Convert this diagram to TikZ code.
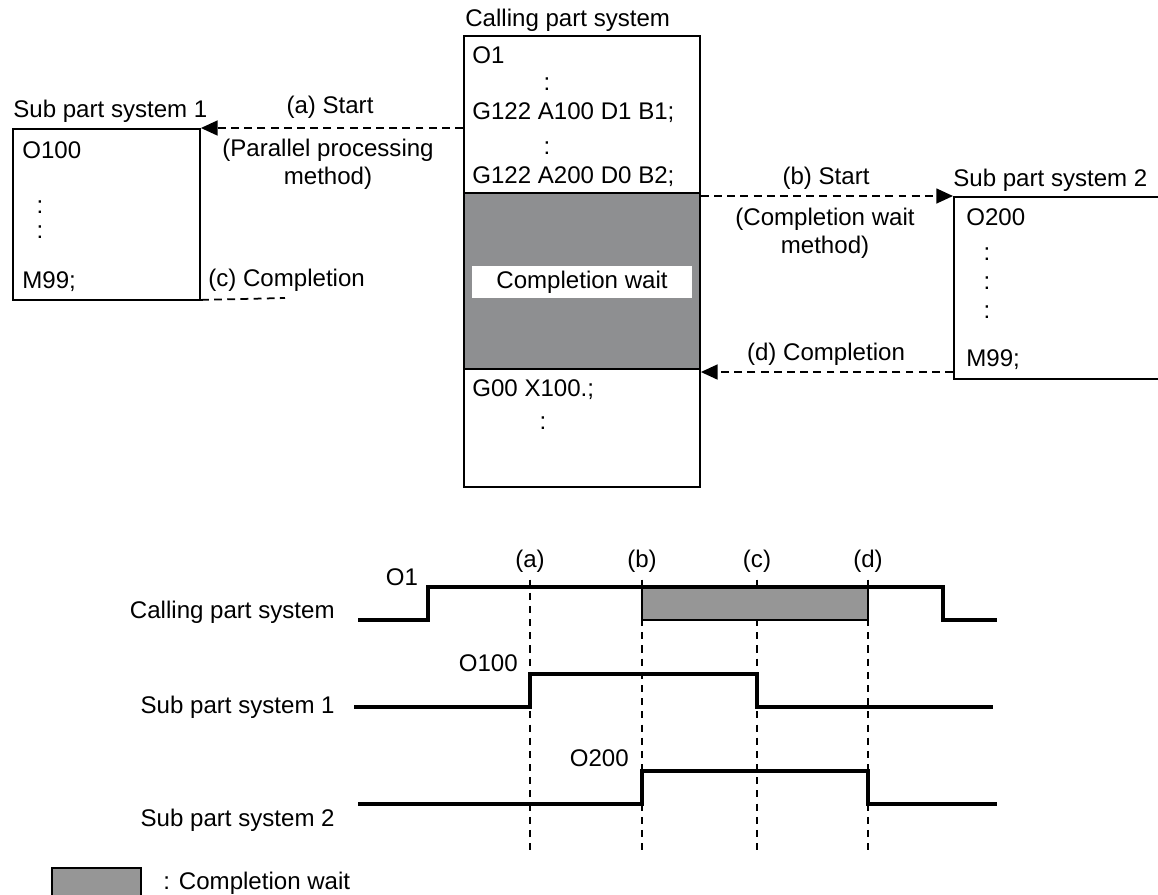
\documentclass[tikz,border=0pt]{standalone}
\usepackage{fontspec}
\setmainfont{Liberation Sans}
\usetikzlibrary{positioning, arrows.meta}
\definecolor{waitgray}{RGB}{142,143,145}
\definecolor{waitgraylt}{RGB}{150,150,150}

\begin{document}
\begin{tikzpicture}[x=0.02cm, y=-0.02cm,
  font=\fontsize{13.7}{16}\selectfont,
  txt/.style={inner sep=0pt},
  box/.style={draw, line width=1.1pt, inner sep=0pt, anchor=north west},
  call/.style={-{Triangle[length=9.5pt, width=8.5pt]}, line width=1pt, dash pattern=on 4.5pt off 3pt},
  dashline/.style={line width=1pt, dash pattern=on 4.5pt off 3pt},
  tline/.style={line width=1.2pt, dash pattern=on 4pt off 3.5pt},
  sig/.style={line width=1.8pt, line join=miter}]
\useasboundingbox (0,0) rectangle (1158,894);
\clip (0,0) rectangle (1158,894);

% Calling part system (middle block)
\fill[waitgray] (463,193) rectangle (699,369);
\draw[line width=1.1pt] (463,193) -- (699,193) (463,369) -- (699,369);
\node[box, minimum width=4.72cm, minimum height=9.02cm] (calling) at (463,35) {};
\node[txt, anchor=west] (callTitle) at (465,20) {Calling part system};
\node[txt, anchor=west] (cO1) at (472,55) {O1};
\node[txt] (cDots1) at (547,84) {:};
\node[txt, anchor=west] (cG1) at (472,113) {G122 A100 D1 B1;};
\node[txt] (cDots2) at (547,148) {:};
\node[txt, anchor=west] (cG2) at (472,177) {G122 A200 D0 B2;};
\node[fill=white, minimum width=4.42cm, minimum height=0.64cm, inner sep=0pt] (waitLbl) at (582,282) {Completion wait};
\node[txt, anchor=west] (cG00) at (472,390) {G00 X100.;};
\node[txt] (cDots3) at (543,423) {:};

% Sub part system 1 (left block)
\node[box, minimum width=3.74cm, minimum height=3.42cm] (sub1) at (12,128) {};
\node[txt, anchor=west] (sub1Title) at (13,111) {Sub part system 1};
\node[txt, anchor=west] (sO100) at (22,150) {O100};
\node[txt] (sDots1) at (40,207) {:};
\node[txt] (sDots2) at (40,232) {:};
\node[txt, anchor=west] (sM99a) at (22,282) {M99;};

% Sub part system 2 (right block)
\node[box, minimum width=4.4cm, minimum height=3.64cm] (sub2) at (953,196) {};
\node[txt, anchor=west] (sub2Title) at (953,180) {Sub part system 2};
\node[txt, anchor=west] (sO200) at (966,217) {O200};
\node[txt] (tDots1) at (987,254) {:};
\node[txt] (tDots2) at (987,283) {:};
\node[txt] (tDots3) at (987,312) {:};
\node[txt, anchor=west] (sM99b) at (966,360) {M99;};

% Start / completion signals
\draw[call] (calling.west |- sub1.north) -- (sub1.north east);
\node[txt] (aStart) at (330,107) {(a) Start};
\node[txt, align=center] (aMeth) at (328,164) {(Parallel processing\\method)};
\draw[call] (calling.east |- sub2.north) -- (sub2.north west);
\node[txt] (bStart) at (826,178) {(b) Start};
\node[txt, align=center] (bMeth) at (825,233) {(Completion wait\\method)};
\coordinate (dY) at (953,372);
\draw[call] (sub2.west |- dY) -- (calling.east |- dY);
\node[txt] (dDone) at (826,354) {(d) Completion};
\coordinate (cEnd) at (285,298);
\draw[dashline] (sub1.south east) ++(0,-1) -- (cEnd);
\node[txt, anchor=west] (cDone) at (208,280) {(c) Completion};

% Timing chart
\foreach \x/\t in {530/a, 642/b, 757/c, 868/d} {
  \node[txt] (lbl\t) at (\x,561) {(\t)};
  \coordinate (bot\t) at (\x,852);
  \draw[tline, shorten <=4pt] (lbl\t.south) -- (bot\t);
}
\draw[fill=waitgraylt, line width=0.6pt] (642,587) rectangle (868,620);

\node[txt, anchor=east] (tCall) at (335,612) {Calling part system};
\node[txt, anchor=east] (tSub1) at (335,707) {Sub part system 1};
\node[txt, anchor=east] (tSub2) at (335,820) {Sub part system 2};

\draw[sig] (358,620) -- (428,620) -- (428,587) -- (943,587) -- (943,620) -- (997,620);
\draw[sig] (354,707) -- (530,707) -- (530,674) -- (757,674) -- (757,707) -- (993,707);
\draw[sig] (358,804) -- (642,804) -- (642,771) -- (868,771) -- (868,804) -- (997,804);

\node[txt] (tO1) at (402,577) {O1};
\node[txt, anchor=east] (tO100) at (518,663) {O100};
\node[txt, anchor=east] (tO200) at (629,758) {O200};

% Legend
\draw[fill=waitgraylt, line width=1pt] (52,868) rectangle (141,900);
\node[txt, anchor=west] (legend) at (163,883) {: Completion wait};
\end{tikzpicture}
\end{document}
